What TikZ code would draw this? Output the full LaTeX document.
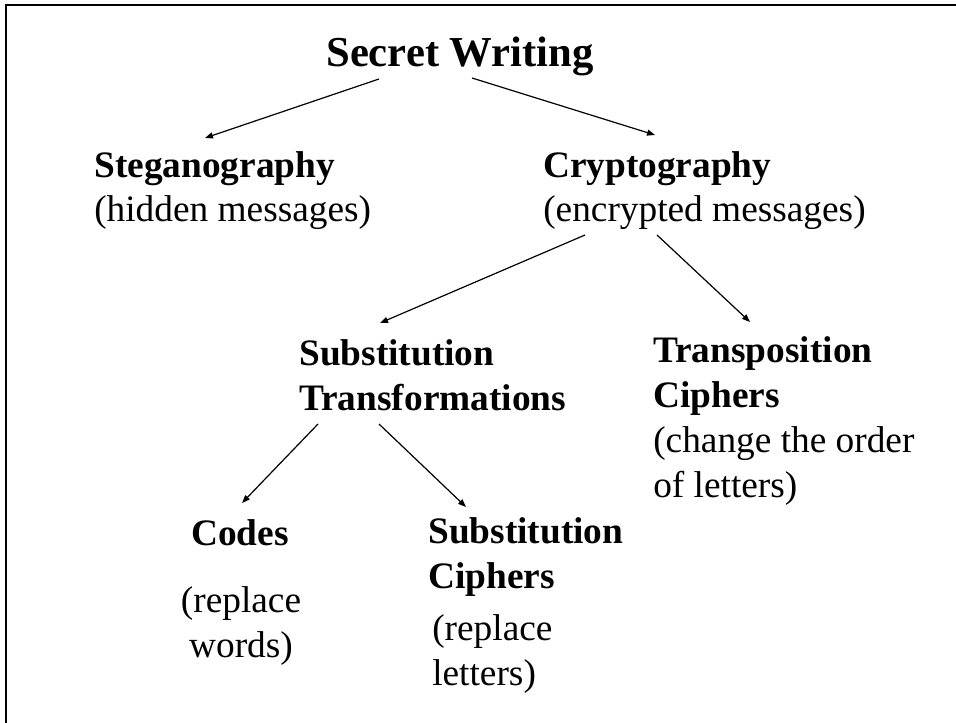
\documentclass[tikz,border=0pt]{standalone}
\usepackage{fontspec}
\setmainfont{Liberation Serif}
\usetikzlibrary{arrows.meta, calc}

\begin{document}
\begin{tikzpicture}[x=0.75pt, y=-0.75pt,
  headtext/.style={inner sep=0pt, font=\fontsize{32}{38.4}\selectfont\bfseries},
  itemtext/.style={inner sep=0pt, align=left, font=\fontsize{28}{33.6}\selectfont},
  arr/.style={-{Triangle[length=6pt, width=4.5pt]}, line width=0.9pt}]
\useasboundingbox (0,0) rectangle (956,723);
% frame along the top and left edge
\draw[line width=1.4pt] (6,723) -- (6,5) -- (956,5);

% tree of labels (multi-line nodes sit on their last baseline)
\node[headtext, anchor=base] (secret) at (460,67) {Secret Writing};
\node[itemtext, anchor=base west] (stego) at (94,222)
  {\textbf{Steganography}\\(hidden messages)};
\node[itemtext, anchor=base west] (crypto) at (543,222)
  {\textbf{Cryptography}\\(encrypted messages)};
\node[itemtext, anchor=base west, font=\fontsize{28}{33.6}\selectfont\bfseries] (substrans) at (299,410)
  {Substitution\\Transformations};
\node[itemtext, anchor=base west] (transpo) at (653,497)
  {\textbf{Transposition}\\\textbf{Ciphers}\\(change the order\\of letters)};
\node[itemtext, anchor=base, font=\fontsize{28}{33.6}\selectfont\bfseries] (codes) at (240,545) {Codes};
\node[itemtext, anchor=base, align=center] (codesnote) at (241,657) {(replace\\words)};
\node[itemtext, anchor=base west, font=\fontsize{28}{33.6}\selectfont\bfseries] (subciph) at (428,588)
  {Substitution\\Ciphers};
\node[itemtext, anchor=base west] (subciphnote) at (432,685) {(replace\\letters)};

% arrows
\draw[arr] ($(secret.base)+(-81,12)$) -- ($(stego.base west)+(111,-84)$);
\draw[arr] ($(secret.base)+(12,11)$) -- ($(crypto.base west)+(112,-87)$);
\draw[arr] ($(crypto.base west)+(42,13)$) -- ($(substrans.base west)+(81,-87)$);
\draw[arr] ($(crypto.base west)+(114,13)$) -- ($(transpo.base west)+(97,-175)$);
\draw[arr] ($(substrans.base west)+(19,14)$) -- ($(codes.base)+(2,-42)$);
\draw[arr] ($(substrans.base west)+(80,14)$) -- ($(subciph.base west)+(38,-81)$);
\end{tikzpicture}
\end{document}
